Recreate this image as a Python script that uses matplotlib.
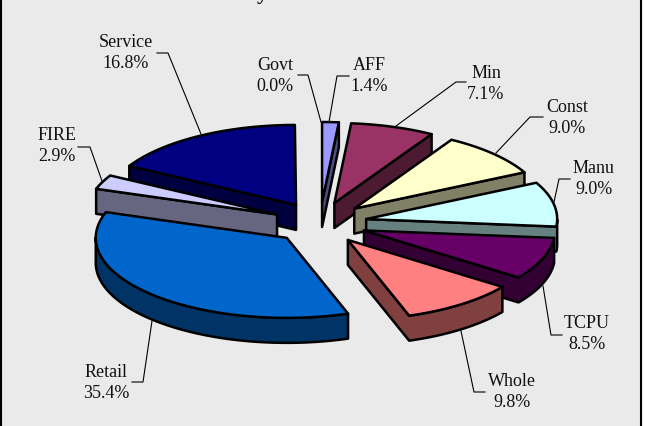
import numpy as np
import matplotlib
matplotlib.use('Agg')
import matplotlib.pyplot as plt

names = ['AFF', 'Min', 'Const', 'Manu', 'TCPU', 'Whole', 'Retail', 'FIRE', 'Service', 'Govt']
shares = [1.4, 7.1, 9.0, 9.0, 8.5, 9.8, 35.4, 2.9, 16.8, 0.0]
top_colors = ['#9999FF', '#993366', '#FFFFCC', '#CCFFFF', '#660066',
              '#FF8080', '#0066CC', '#CCCCFF', '#000080', '#FFFFFF']
side_colors = ['#4C4C80', '#4D1A33', '#808066', '#668080', '#330033',
               '#804040', '#003366', '#666680', '#000040', '#808080']

# label centre and leader line for each slice, in pixels
label_pos = {'AFF': (369, 76), 'Min': (486, 84), 'Const': (567, 118), 'Manu': (594, 179),
             'TCPU': (587, 334), 'Whole': (512, 392), 'Retail': (106, 383),
             'FIRE': (57, 146), 'Service': (126, 53), 'Govt': (275, 76)}
leaders = {'AFF': [(349, 77), (337, 77), (329, 123)],
           'Min': [(466, 83), (456, 83), (396, 127)],
           'Const': [(543, 118), (530, 118), (496, 154)],
           'Manu': [(570, 180), (559, 180), (554, 203)],
           'TCPU': [(562, 336), (551, 336), (543, 287)],
           'Whole': [(485, 393), (474, 393), (461, 332)],
           'Retail': [(132, 383), (143, 383), (152, 322)],
           'FIRE': [(78, 148), (90, 148), (102, 182)],
           'Service': [(157, 54), (168, 54), (201, 135)],
           'Govt': [(298, 76), (308, 76), (321, 123)]}

CX, CY = 320, 224
RX, RY = 191, 80
EX, EY = 47, 21
DEPTH = 25
LW = 1.8

plt.rcParams['font.family'] = ['Liberation Serif', 'DejaVu Serif']

fig = plt.figure(figsize=(6.45, 4.27), dpi=100, facecolor='white')
ax = fig.add_axes([0, 0, 1, 1])
ax.set_xlim(0, 645)
ax.set_ylim(427, 0)
ax.axis('off')

# chart area with the black frame on the left and right
ax.fill([0, 641, 641, 0], [-5, -5, 432, 432], color='#EAEAEA', zorder=0)
ax.plot([0.5, 0.5], [-5, 432], color='black', lw=1.5, zorder=1)
ax.plot([641, 641], [-5, 432], color='black', lw=1.5, zorder=1)

# what is left of the cut off title
ax.text(262, -1, 'y', fontsize=16, fontweight='bold', ha='center', va='baseline', color='#111111')


def slice_outline(start, end):
    a0, a1 = np.radians(start * 3.6), np.radians(end * 3.6)
    mid = (a0 + a1) / 2
    x0 = CX + EX * np.sin(mid)
    y0 = CY - EY * np.cos(mid)
    t = np.linspace(a0, a1, max(int((a1 - a0) * 60), 2))
    xs = x0 + RX * np.sin(t)
    ys = y0 - RY * np.cos(t)
    return np.r_[x0, xs, x0], np.r_[y0, ys, y0], mid


def draw_slice(i, start, end, z):
    xs, ys, mid = slice_outline(start, end)
    # walls facing the viewer are the outline parts running right to left
    n = len(xs) - 1
    k = 0
    while k < n:
        if xs[k + 1] < xs[k]:
            m = k
            while m < n and xs[m + 1] < xs[m]:
                m += 1
            wx = np.r_[xs[k:m + 1], xs[k:m + 1][::-1]]
            wy = np.r_[ys[k:m + 1], ys[k:m + 1][::-1] + DEPTH]
            ax.fill(wx, wy, facecolor=side_colors[i], edgecolor='black', lw=LW,
                    joinstyle='round', zorder=z)
            k = m
        else:
            k += 1
    ax.fill(xs, ys, facecolor=top_colors[i], edgecolor='black', lw=LW,
            joinstyle='round', zorder=z + 0.5)


starts = np.cumsum([0] + shares[:-1])
mids = starts + np.array(shares) / 2
order = np.argsort(-np.cos(np.radians(mids * 3.6)))
for n, i in enumerate(order):
    if shares[i] > 0:
        draw_slice(i, starts[i], starts[i] + shares[i], 3 + n)

for i, name in enumerate(names):
    pts = leaders[name]
    ax.plot([p[0] for p in pts], [p[1] for p in pts], color='black', lw=0.8, zorder=2)
    lx, ly = label_pos[name]
    ax.text(lx, ly, '%s\n%.1f%%' % (name, shares[i]), fontsize=13, ha='center', va='center',
            linespacing=1.32, color='#111111', zorder=20)

fig.savefig('out.png', dpi=100)
